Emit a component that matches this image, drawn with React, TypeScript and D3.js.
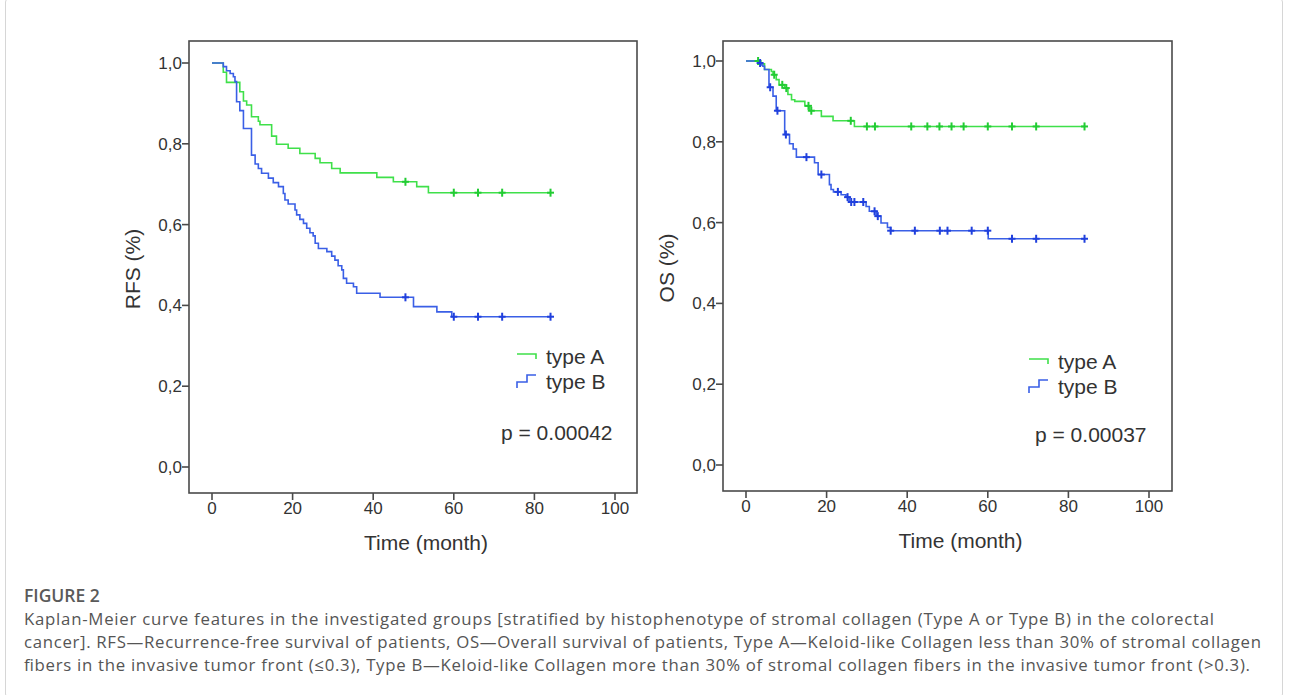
import React from 'react';
import * as d3 from 'd3';

// ---------- data ----------
const timeTicks = [0, 20, 40, 60, 80, 100];
const survTicks = [0, 0.2, 0.4, 0.6, 0.8, 1.0];
const survTickLabels = ['0,0', '0,2', '0,4', '0,6', '0,8', '1,0'];
const followUpEnd = 84;

// RFS, type A (time in months, survival proportion after the step)
const rfsTypeA: [number, number][] = [
  [0, 1.0], [2.8, 0.977], [3.6, 0.952], [6.9, 0.929], [7.8, 0.906], [8.6, 0.896],
  [9.8, 0.867], [11.5, 0.856], [11.9, 0.847], [14.8, 0.819], [16.0, 0.799], [18.9, 0.789],
  [21.8, 0.776], [25.6, 0.764], [26.8, 0.753], [29.7, 0.739], [31.8, 0.728], [40.9, 0.717],
  [45.0, 0.706], [50.8, 0.694], [53.7, 0.679],
];
const rfsTypeACensored = [48, 60, 66, 72, 84];

// RFS, type B
const rfsTypeB: [number, number][] = [
  [0, 1.0], [2.8, 0.991], [3.6, 0.981], [4.5, 0.974], [5.3, 0.966], [5.7, 0.954],
  [6.1, 0.904], [6.9, 0.882], [7.8, 0.838], [9.8, 0.772], [10.7, 0.750], [11.5, 0.739],
  [12.3, 0.727], [14.0, 0.715], [15.2, 0.704], [16.5, 0.694], [17.7, 0.677], [18.1, 0.661],
  [18.9, 0.651], [20.6, 0.636], [21.0, 0.624], [21.8, 0.613], [22.7, 0.603], [23.5, 0.591],
  [24.3, 0.580], [25.1, 0.572], [25.6, 0.554], [26.4, 0.541], [28.5, 0.533], [29.7, 0.522],
  [30.5, 0.512], [31.3, 0.498], [32.2, 0.488], [32.6, 0.467], [33.4, 0.455], [35.1, 0.446],
  [35.9, 0.430], [41.7, 0.420], [50.0, 0.397], [55.8, 0.384], [59.5, 0.372],
];
const rfsTypeBCensored = [48, 60, 66, 72, 84];

// OS, type A
const osTypeA: [number, number][] = [
  [0, 1.0], [3.3, 0.993], [4.6, 0.979], [6.3, 0.974], [6.7, 0.966], [7.5, 0.954],
  [8.2, 0.941], [9.6, 0.933], [10.4, 0.917], [11.3, 0.904], [12.1, 0.900], [14.6, 0.889],
  [15.8, 0.877], [18.7, 0.863], [21.6, 0.852], [26.9, 0.838],
];
const osTypeACensored = [3, 7, 9, 10, 15.5, 16.2, 26, 30, 32, 41, 45, 48, 51, 54, 60, 66, 72, 84];

// OS, type B
const osTypeB: [number, number][] = [
  [0, 1.0], [3.0, 0.995], [3.7, 0.990], [4.2, 0.987], [4.6, 0.979], [5.7, 0.935],
  [6.7, 0.913], [7.5, 0.877], [9.6, 0.818], [10.8, 0.795], [11.7, 0.782], [12.5, 0.762],
  [17.0, 0.748], [17.9, 0.719], [20.7, 0.694], [21.1, 0.682], [21.7, 0.676], [23.6, 0.669],
  [24.8, 0.663], [25.6, 0.651], [29.8, 0.640], [30.6, 0.628], [32.3, 0.616], [33.5, 0.599],
  [35.1, 0.588], [35.9, 0.580], [60.1, 0.560],
];
const osTypeBCensored = [3.5, 6, 7.8, 9.9, 15, 18.7, 22.8, 25.2, 26.1, 26.9, 29.1, 31.9, 32.7, 35.9, 41.9, 48.1, 50, 56, 60, 66, 72, 84];

const legendLabels = ['type A', 'type B'];
const pValues = ['p = 0.00042', 'p = 0.00037'];
const yTitles = ['RFS (%)', 'OS (%)'];
const xTitle = 'Time (month)';

const captionTitle = 'FIGURE 2';
const captionLines = [
  'Kaplan-Meier curve features in the investigated groups [stratified by histophenotype of stromal collagen (Type A or Type B) in the colorectal',
  'cancer]. RFS\u2014Recurrence-free survival of patients, OS\u2014Overall survival of patients, Type A\u2014Keloid-like Collagen less than 30% of stromal collagen',
  'fibers in the invasive tumor front (\u22640.3), Type B\u2014Keloid-like Collagen more than 30% of stromal collagen fibers in the invasive tumor front (>0.3).',
];
const captionLineWidths = [1190, 1237, 1226];

// ---------- styles ----------
const GREEN = '#3fe04a';
const GREEN_DARK = '#22cc33';
const BLUE = '#3a5fe6';
const BLUE_DARK = '#2040dd';
const AXIS = '#4a4a4a';
const TEXT = '#333';
const FONT = '"Liberation Sans", Arial, sans-serif';

function survAt(steps: [number, number][], t: number) {
  let v = steps[0][1];
  for (const [st, sv] of steps) if (st <= t + 1e-9) v = sv;
  return v;
}

type PanelProps = {
  left: number; top: number; right: number; bottom: number;
  curveA: [number, number][]; censA: number[];
  curveB: [number, number][]; censB: number[];
  yTitle: string; pValue: string;
  legendDx: number; legendDy: number; pDy: number;
};

function Panel(p: PanelProps) {
  const x = d3.scaleLinear().domain([0, 100]).range([p.left + 23, p.left + 426]);
  const y = d3.scaleLinear().domain([0, 1]).range([p.bottom - 26, p.bottom - 430]);
  const line = d3.line<[number, number]>().x(d => x(d[0])).y(d => y(d[1])).curve(d3.curveStepAfter);
  const withEnd = (c: [number, number][]) => [...c, [followUpEnd, c[c.length - 1][1]] as [number, number]];
  const cens = (c: [number, number][], ts: number[], color: string) =>
    ts.map((t, i) => {
      const cx = x(t), cy = y(survAt(c, t));
      return (
        <g key={i} stroke={color} strokeWidth={2}>
          <line x1={cx} x2={cx} y1={cy - 4} y2={cy + 4} />
          <line x1={cx - 3.5} x2={cx + 3.5} y1={cy} y2={cy} />
        </g>
      );
    });
  const midX = (p.left + p.right) / 2 + 13;
  const lx = p.left + 328 + p.legendDx;
  const ly = 355 + p.legendDy;
  return (
    <g fontFamily={FONT}>
      <rect x={p.left} y={p.top} width={p.right - p.left} height={p.bottom - p.top} fill="#fff" stroke={AXIS} strokeWidth={1.6} />
      {survTicks.map((v, i) => (
        <g key={i}>
          <line x1={p.left - 7} x2={p.left} y1={y(v)} y2={y(v)} stroke={AXIS} strokeWidth={1.6} />
          <text x={p.left - 7} y={y(v) + 6} textAnchor="end" fontSize={17} fill={TEXT}>{survTickLabels[i]}</text>
        </g>
      ))}
      {timeTicks.map((t, i) => (
        <g key={i}>
          <line x1={x(t)} x2={x(t)} y1={p.bottom} y2={p.bottom + 7} stroke={AXIS} strokeWidth={1.6} />
          <text x={x(t)} y={p.bottom + 21} textAnchor="middle" fontSize={17} fill={TEXT}>{t}</text>
        </g>
      ))}
      <text x={midX} y={p.bottom + 57} textAnchor="middle" fontSize={21} fill={TEXT}>{xTitle}</text>
      <text transform={`translate(${p.left - 49},${(p.top + p.bottom) / 2 + 2}) rotate(-90)`} textAnchor="middle" fontSize={21} fill={TEXT}>{p.yTitle}</text>

      <path d={line(withEnd(p.curveA)) || ''} fill="none" stroke={GREEN} strokeWidth={1.6} />
      <path d={line(withEnd(p.curveB)) || ''} fill="none" stroke={BLUE} strokeWidth={1.6} />
      {cens(p.curveA, p.censA, GREEN_DARK)}
      {cens(p.curveB, p.censB, BLUE_DARK)}

      {/* legend */}
      <path d={`M${lx},${ly - 1} H${lx + 19} V${ly + 4}`} fill="none" stroke={GREEN} strokeWidth={1.6} />
      <text x={lx + 29} y={ly + 9} fontSize={21} fill={TEXT}>{legendLabels[0]}</text>
      <path d={`M${lx},${ly + 33} V${ly + 27} H${lx + 10} V${ly + 20} H${lx + 19}`} fill="none" stroke={BLUE} strokeWidth={1.6} />
      <text x={lx + 29} y={ly + 34} fontSize={21} fill={TEXT}>{legendLabels[1]}</text>

      <text x={p.left + 312} y={440 + p.pDy} fontSize={21} fill={TEXT}>{p.pValue}</text>
    </g>
  );
}

export default function App() {
  return (
    <div style={{ position: 'absolute', left: 0, top: 0 }}>
      <svg width={1289} height={695} style={{ display: 'block', background: '#fff' }}>
        <rect x={5.5} y={-2} width={1277} height={700} rx={4} fill="none" stroke="#d6d6d6" strokeWidth={1} />
        <Panel left={189} top={41} right={637} bottom={493}
          curveA={rfsTypeA} censA={rfsTypeACensored} curveB={rfsTypeB} censB={rfsTypeBCensored}
          yTitle={yTitles[0]} pValue={pValues[0]} legendDx={0} legendDy={0} pDy={0} />
        <Panel left={723} top={41} right={1172} bottom={491}
          curveA={osTypeA} censA={osTypeACensored} curveB={osTypeB} censB={osTypeBCensored}
          yTitle={yTitles[1]} pValue={pValues[1]} legendDx={-22} legendDy={5} pDy={2} />
        <g fontFamily='"Open Sans", "Noto Sans", sans-serif' fill="#555">
          <text x={24} y={602} fontSize={17.5} fontWeight={600} fill="#5a5a5a">{captionTitle}</text>
          {captionLines.map((l, i) => (
            <text key={i} x={24} y={625 + i * 23} fontSize={16.8} textLength={captionLineWidths[i]} lengthAdjust="spacing">{l}</text>
          ))}
        </g>
      </svg>
    </div>
  );
}
